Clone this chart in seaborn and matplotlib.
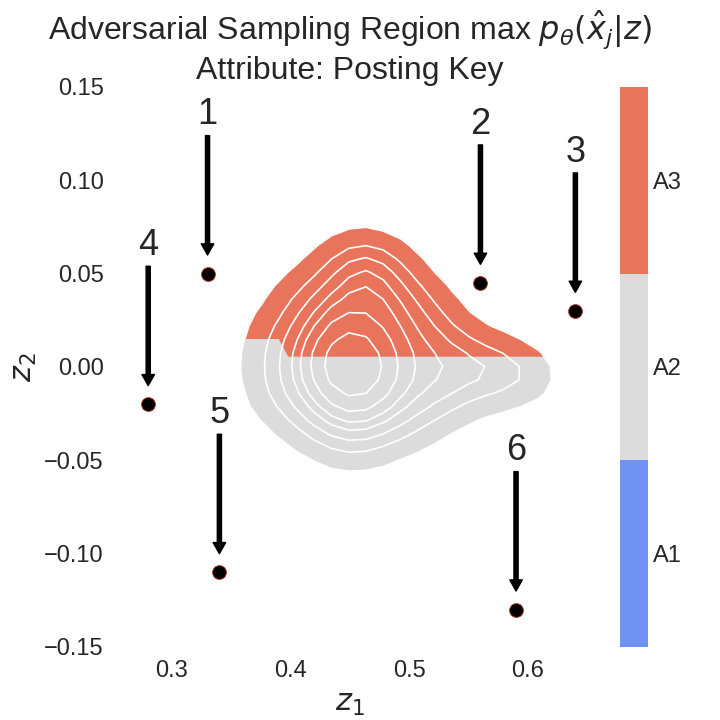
import matplotlib
matplotlib.use('Agg')
from matplotlib import pyplot as plt
from matplotlib.colors import ListedColormap, BoundaryNorm
from matplotlib.cm import ScalarMappable
from matplotlib.patches import Polygon
import seaborn as sns

# latent samples used for the density contour
z1_samples = [0.39, 0.39, 0.39,
              0.41, 0.41, 0.41, 0.41, 0.41,
              0.43, 0.43, 0.43, 0.43, 0.43, 0.43,
              0.45, 0.45, 0.45, 0.45, 0.45, 0.45, 0.45, 0.45,
              0.47, 0.47, 0.47, 0.47, 0.47, 0.47, 0.47,
              0.49, 0.49, 0.49, 0.49, 0.49, 0.49,
              0.51, 0.51, 0.51, 0.51, 0.51,
              0.53, 0.53, 0.53,
              0.55, 0.55,
              0.57, 0.585, 0.595,
              0.445, 0.455, 0.452, 0.46, 0.455, 0.47,
              0.452, 0.452, 0.452, 0.452]
z2_samples = [0.0, -0.015, 0.015,
              -0.025, -0.01, 0.005, 0.02, 0.035,
              -0.035, -0.02, -0.005, 0.01, 0.025, 0.04,
              -0.042, -0.025, -0.01, 0.0, 0.005, 0.02, 0.035, 0.05,
              -0.035, -0.02, -0.005, 0.01, 0.025, 0.04, 0.052,
              -0.03, -0.015, 0.0, 0.015, 0.03, 0.042,
              -0.025, -0.01, 0.005, 0.02, 0.033,
              -0.015, 0.0, 0.015,
              -0.01, 0.005,
              0.0, -0.003, -0.005,
              0.0, -0.005, 0.01, 0.0, 0.057, 0.057,
              -0.025, -0.01, 0.012, 0.026]

# boundary of the A3 decision region (above this line)
a3_edge_x = [0.20, 0.390, 0.398, 0.70]
a3_edge_y = [0.015, 0.015, 0.0055, 0.0055]

# adversarial samples
adv_labels = ['1', '2', '3', '4', '5', '6']
adv_z1 = [0.33, 0.56, 0.64, 0.28, 0.34, 0.59]
adv_z2 = [0.05, 0.045, 0.03, -0.02, -0.11, -0.13]

region_labels = ['A1', 'A2', 'A3']
region_colors = ['#6f92f3', '#dcdcdc', '#e8745c']

sns.set_theme(style='white')
plt.rcParams['font.family'] = ['Liberation Sans', 'DejaVu Sans']
plt.rcParams['mathtext.fontset'] = 'dejavusans'

fig = plt.figure(figsize=(7.2, 7.2), dpi=100)
ax = fig.add_axes([0.1625, 0.1014, 0.647, 0.7778])
cax = fig.add_axes([0.861, 0.1014, 0.039, 0.7778])

kde_kws = dict(levels=8, thresh=0.05, gridsize=25, bw_adjust=1.0)

# whole density in A2 colour
sns.kdeplot(x=z1_samples, y=z2_samples, fill=True, ax=ax,
            cmap=ListedColormap([region_colors[1]]), **kde_kws)

# same density in A3 colour, clipped to the A3 region
before = len(ax.collections)
sns.kdeplot(x=z1_samples, y=z2_samples, fill=True, ax=ax,
            cmap=ListedColormap([region_colors[2]]), **kde_kws)
clip_poly = Polygon(list(zip(a3_edge_x, a3_edge_y)) + [(0.70, 0.3), (0.20, 0.3)],
                    closed=True, transform=ax.transData)
for coll in ax.collections[before:]:
    coll.set_clip_path(clip_poly)

# white contour lines
sns.kdeplot(x=z1_samples, y=z2_samples, fill=False, ax=ax,
            color='white', linewidths=1.2, **kde_kws)

sns.scatterplot(x=adv_z1, y=adv_z2, color='black', edgecolor='#c0392b',
                s=100, linewidth=0.6, ax=ax, zorder=5)

for lab, x, y in zip(adv_labels, adv_z1, adv_z2):
    ax.annotate(lab, xy=(x, y + 0.01), xytext=(x, y + 0.08),
                ha='center', fontsize=26, color='#262626',
                arrowprops=dict(facecolor='black', edgecolor='black',
                                width=3, headwidth=9, headlength=8, shrink=0))

ax.set_xlim(0.2537, 0.6463)
ax.set_ylim(-0.15, 0.15)
ax.set_xticks([0.3, 0.4, 0.5, 0.6])
ax.set_yticks([-0.15, -0.10, -0.05, 0.0, 0.05, 0.10, 0.15])
ax.tick_params(labelsize=17)
ax.set_xlabel('$z_1$', fontsize=22)
ax.set_ylabel('$z_2$', fontsize=22)
ax.set_title('Adversarial Sampling Region max $p_\\theta(\\hat{x}_j|z)$\nAttribute: Posting Key',
             fontsize=23)
sns.despine(ax=ax, left=True, bottom=True)

sm = ScalarMappable(norm=BoundaryNorm([0, 1, 2, 3], 3), cmap=ListedColormap(region_colors))
cb = fig.colorbar(sm, cax=cax, ticks=[0.5, 1.5, 2.5])
cb.set_ticklabels(region_labels)
cb.outline.set_visible(False)
cax.minorticks_off()
cax.tick_params(which='both', length=0, labelsize=17)

fig.savefig('out.png', dpi=100)
